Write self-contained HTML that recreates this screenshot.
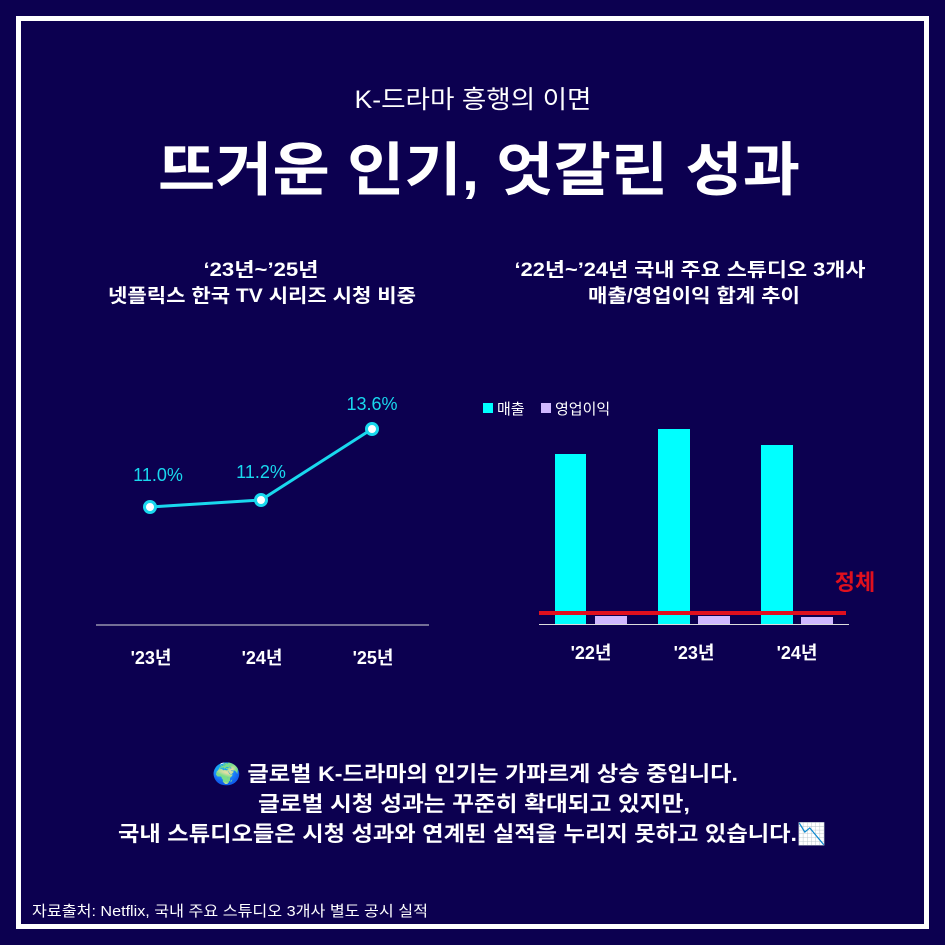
<!DOCTYPE html>
<html><head><meta charset="utf-8"><style>
body{margin:0;background:#0c0050;}
svg{display:block}
text{font-family:"Liberation Sans","Noto Sans CJK KR",sans-serif;}
</style></head><body>
<svg width="945" height="945" viewBox="0 0 945 945">
<rect width="945" height="945" fill="#0c0050"/>
<rect x="18.5" y="18.5" width="908" height="908" fill="none" stroke="#fff" stroke-width="5"/>
<text x="473" y="108" text-anchor="middle" fill="#fff" font-size="25" textLength="237" lengthAdjust="spacingAndGlyphs">K-드라마 흥행의 이면</text>
<text x="479" y="190" text-anchor="middle" fill="#fff" font-size="58" font-weight="bold" textLength="642" lengthAdjust="spacingAndGlyphs">뜨거운 인기, 엇갈린 성과</text>
<text x="261" y="276" text-anchor="middle" fill="#fff" font-size="19" font-weight="bold" textLength="115" lengthAdjust="spacingAndGlyphs">‘23년~’25년</text>
<text x="262" y="302" text-anchor="middle" fill="#fff" font-size="19" font-weight="bold" textLength="308" lengthAdjust="spacingAndGlyphs">넷플릭스 한국 TV 시리즈 시청 비중</text>
<text x="690" y="276" text-anchor="middle" fill="#fff" font-size="19" font-weight="bold" textLength="351" lengthAdjust="spacingAndGlyphs">‘22년~’24년 국내 주요 스튜디오 3개사</text>
<text x="694" y="302" text-anchor="middle" fill="#fff" font-size="19" font-weight="bold" textLength="212" lengthAdjust="spacingAndGlyphs">매출/영업이익 합계 추이</text>
<!-- line chart -->
<line x1="96" y1="625" x2="429" y2="625" stroke="#ddd" stroke-width="1"/>
<polyline points="150,507 261,500 372,429" fill="none" stroke="#19d8ee" stroke-width="3"/>
<g fill="#fff" stroke="#19d8ee" stroke-width="3">
<circle cx="150" cy="507" r="5.5"/><circle cx="261" cy="500" r="5.5"/><circle cx="372" cy="429" r="5.5"/></g>
<g fill="#19d8ee" font-size="18" text-anchor="middle">
<text x="158" y="481">11.0%</text><text x="261" y="478">11.2%</text><text x="372" y="410">13.6%</text></g>
<g fill="#fff" font-size="18" font-weight="bold" text-anchor="middle">
<text x="151" y="664">'23년</text><text x="262" y="664">'24년</text><text x="373" y="664">'25년</text>
<text x="591" y="659">'22년</text><text x="694" y="659">'23년</text><text x="797" y="659">'24년</text></g>
<!-- bar chart -->
<rect x="483" y="403" width="10" height="10" fill="#00ffff"/>
<text x="497" y="414" fill="#fff" font-size="15">매출</text>
<rect x="541" y="403" width="10" height="10" fill="#d0b8ff"/>
<text x="555" y="414" fill="#fff" font-size="15">영업이익</text>
<g fill="#00ffff"><rect x="555" y="454" width="31" height="170"/><rect x="658" y="429" width="32" height="195"/><rect x="761" y="445" width="32" height="179"/></g>
<g fill="#d0b8ff"><rect x="595" y="616" width="32" height="8"/><rect x="698" y="616" width="32" height="8"/><rect x="801" y="617" width="32" height="7"/></g>
<line x1="539" y1="624.5" x2="849" y2="624.5" stroke="#ddd" stroke-width="1"/>
<line x1="539" y1="613" x2="846" y2="613" stroke="#e0101e" stroke-width="4"/>
<text x="855" y="590" text-anchor="middle" fill="#e0101e" font-size="22" font-weight="bold">정체</text>
<g fill="#fff" font-size="21" font-weight="bold" text-anchor="middle">
<text x="475" y="781" textLength="526" lengthAdjust="spacingAndGlyphs">🌍 글로벌 K-드라마의 인기는 가파르게 상승 중입니다.</text>
<text x="474" y="811" textLength="432" lengthAdjust="spacingAndGlyphs">글로벌 시청 성과는 꾸준히 확대되고 있지만,</text>
<text x="472" y="841" textLength="708" lengthAdjust="spacingAndGlyphs">국내 스튜디오들은 시청 성과와 연계된 실적을 누리지 못하고 있습니다.📉</text></g>
<text x="32" y="916" fill="#fff" font-size="15" textLength="396" lengthAdjust="spacingAndGlyphs">자료출처: Netflix, 국내 주요 스튜디오 3개사 별도 공시 실적</text>
</svg>
</body></html>
